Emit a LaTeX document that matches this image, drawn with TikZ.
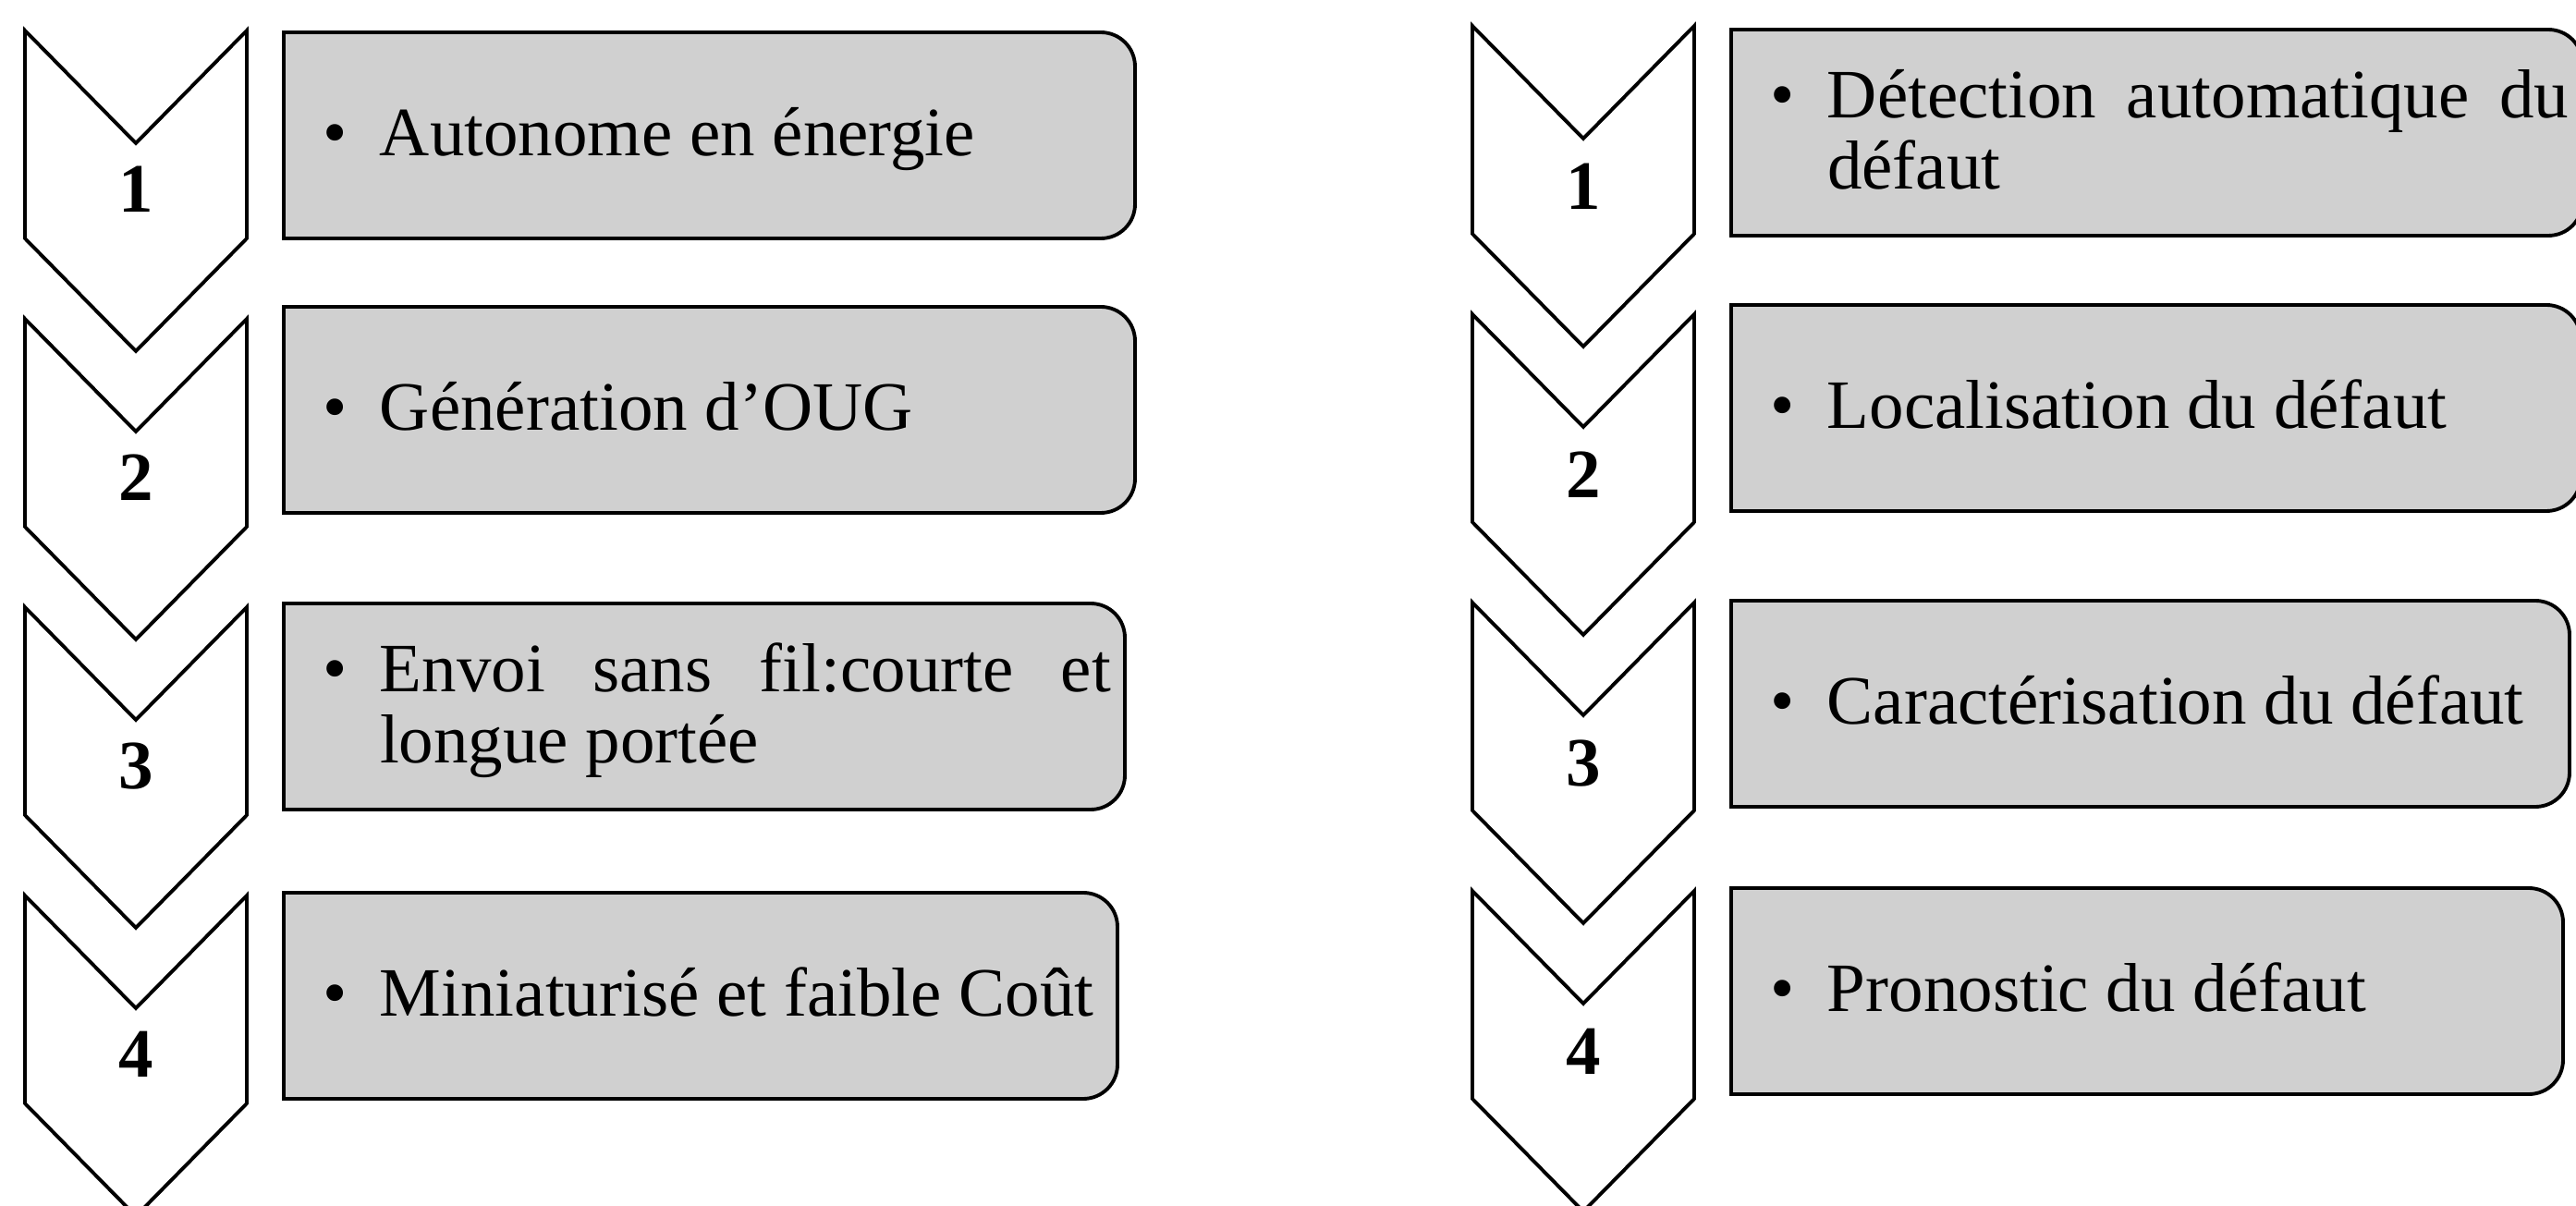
\documentclass[tikz,border=0pt]{standalone}
\usepackage{fontspec}
\setmainfont{Liberation Serif}
\usepackage{tikz}
\usetikzlibrary{positioning}
\definecolor{cellgray}{RGB}{208,208,208}
\newcommand{\cellr}{0.37cm}
\tikzset{
    chev/.style={draw=black, fill=white, line width=1.1pt},
    cellline/.style={draw=black, fill=cellgray, line width=1.1pt},
    cell/.style={rectangle, inner sep=0pt, outer sep=0pt, anchor=north west, minimum height=2.23cm},
    itemtext/.style={inner sep=0pt, outer sep=0pt, anchor=west, align=justify, font=\fontsize{21.33}{21.9}\selectfont},
    num/.style={inner sep=0pt, anchor=base, font=\fontsize{21.33}{21.9}\selectfont\bfseries}
}
% chevron: #1 = centre x, #2 = top y
\newcommand{\chevron}[2]{%
    \draw[chev] (#1-1.20,#2) -- (#1,#2-1.22) -- (#1+1.20,#2) -- (#1+1.20,#2-2.25)
        -- (#1,#2-3.47) -- (#1-1.20,#2-2.25) -- cycle;}
% grey frame, rounded on the right only
\newcommand{\cellframe}[1]{%
    \draw[cellline] (#1.south west) -- (#1.north west)
        -- ([xshift=-\cellr]#1.north east) arc[start angle=90, end angle=0, radius=\cellr]
        -- ([yshift=\cellr]#1.south east) arc[start angle=0, end angle=-90, radius=\cellr]
        -- cycle;}
% bulleted text
\newcommand{\itm}[1]{\tolerance=9999\hyphenpenalty=10000\noindent\llap{\textbullet\hspace{0.348cm}}\rule{0pt}{18.3pt}#1\rule[-5.5pt]{0pt}{5.5pt}}

\begin{document}
\begin{tikzpicture}
    \path[use as bounding box, fill=white] (0,0) rectangle (27.87,13.04);

    % -- Left column --
    \chevron{1.47}{12.71}
    \chevron{1.47}{9.59}
    \chevron{1.47}{6.47}
    \chevron{1.47}{3.35}
    \node[num] (ln1) at (1.47,10.74) {1};
    \node[num] (ln2) at (1.47,7.62) {2};
    \node[num] (ln3) at (1.47,4.50) {3};
    \node[num] (ln4) at (1.47,1.38) {4};

    \node[cell, minimum width=9.21cm] (lb1) at (3.07,12.69) {};
    \node[cell, minimum width=9.21cm] (lb2) at (3.07,9.72) {};
    \node[cell, minimum width=9.10cm] (lb3) at (3.07,6.51) {};
    \node[cell, minimum width=9.02cm] (lb4) at (3.07,3.38) {};
    \cellframe{lb1}
    \cellframe{lb2}
    \cellframe{lb3}
    \cellframe{lb4}
    \node[itemtext, text width=8.02cm] (lt1) at ([xshift=1.04cm]lb1.west) {\itm{Autonome en énergie}};
    \node[itemtext, text width=8.02cm] (lt2) at ([xshift=1.04cm]lb2.west) {\itm{Génération d’OUG}};
    \node[itemtext, text width=7.91cm] (lt3) at ([xshift=1.04cm]lb3.west) {\itm{Envoi sans fil:courte et longue portée}};
    \node[itemtext, text width=7.83cm] (lt4) at ([xshift=1.04cm]lb4.west) {\itm{Miniaturisé et faible Coût}};

    % -- Right column --
    \chevron{17.13}{12.76}
    \chevron{17.13}{9.64}
    \chevron{17.13}{6.52}
    \chevron{17.13}{3.40}
    \node[num] (rn1) at (17.13,10.77) {1};
    \node[num] (rn2) at (17.13,7.65) {2};
    \node[num] (rn3) at (17.13,4.53) {3};
    \node[num] (rn4) at (17.13,1.41) {4};

    \node[cell, minimum width=9.21cm] (rb1) at (18.73,12.72) {};
    \node[cell, minimum width=9.19cm] (rb2) at (18.73,9.74) {};
    \node[cell, minimum width=9.07cm] (rb3) at (18.73,6.54) {};
    \node[cell, minimum width=9.00cm] (rb4) at (18.73,3.43) {};
    \cellframe{rb1}
    \cellframe{rb2}
    \cellframe{rb3}
    \cellframe{rb4}
    \node[itemtext, text width=8.02cm] (rt1) at ([xshift=1.04cm]rb1.west) {\itm{Détection automatique du défaut}};
    \node[itemtext, text width=8.00cm] (rt2) at ([xshift=1.04cm]rb2.west) {\itm{Localisation du défaut}};
    \node[itemtext, text width=7.88cm] (rt3) at ([xshift=1.04cm]rb3.west) {\itm{Caractérisation du défaut}};
    \node[itemtext, text width=7.81cm] (rt4) at ([xshift=1.04cm]rb4.west) {\itm{Pronostic du défaut}};
\end{tikzpicture}
\end{document}
